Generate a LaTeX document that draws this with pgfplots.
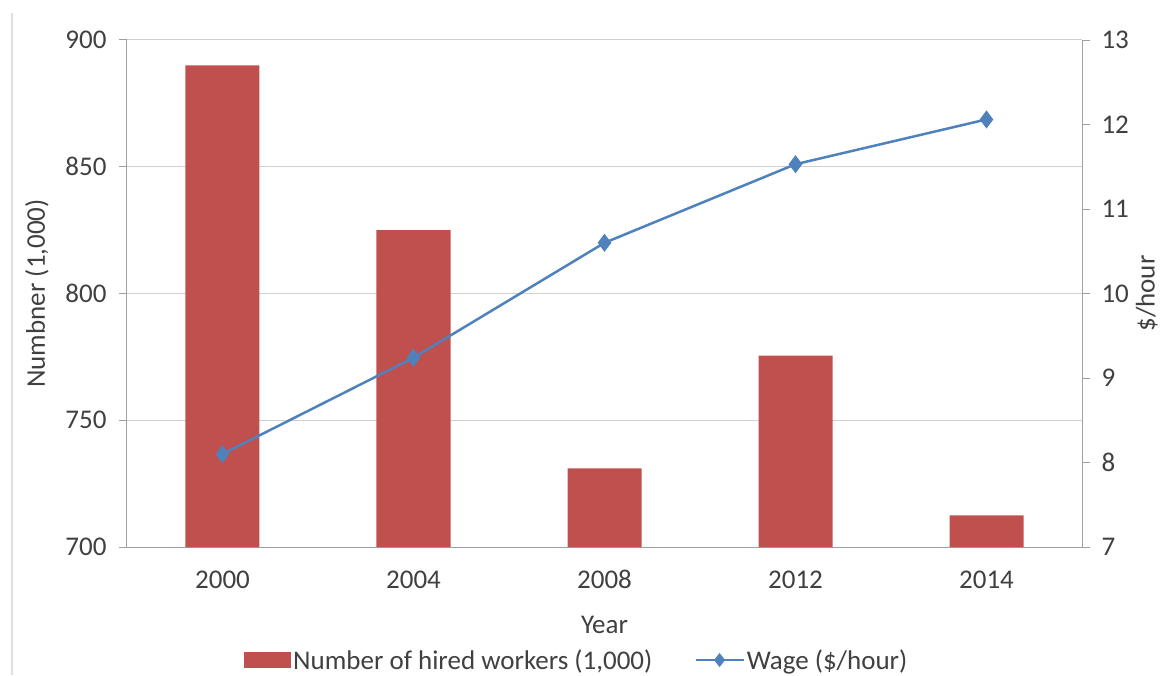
\documentclass[border=0pt]{standalone}
\usepackage{fontspec}
\setmainfont{Carlito}
\usepackage{pgfplots}
\pgfplotsset{compat=1.18}
\definecolor{barred}{HTML}{C0504D}
\definecolor{lineblue}{HTML}{4F81BD}
\definecolor{gridgray}{HTML}{D0D0D0}
\definecolor{axisgray}{HTML}{A0A0A0}
\definecolor{textgray}{HTML}{404040}
\begin{document}
\begin{tikzpicture}[font=\fontsize{27}{32}\selectfont]
\path[use as bounding box] (-127pt,-128pt) rectangle (1035pt,547pt);
\draw[gray!25, line width=1.5pt] (-115pt,-128pt) -- (-115pt,534pt);
\begin{axis}[
  scale only axis, width=955pt, height=507pt,
  xmin=-0.5, xmax=4.5, ymin=700, ymax=900,
  ytick={700,750,...,900},
  xtick={0,...,4}, xticklabels={2000,2004,2008,2012,2014},
  major x tick style={draw=none},
  extra x ticks={-0.5,0.5,1.5,2.5,3.5,4.5},
  extra x tick labels={},
  extra x tick style={major tick length=8pt, tick style={draw=axisgray, line width=1pt}},
  axis x line*=bottom, axis y line*=left,
  axis line style={-, axisgray, line width=1pt},
  ymajorgrids, grid style={gridgray, line width=1pt},
  tick align=outside, major tick length=8pt,
  tick style={axisgray, line width=1pt},
  ticklabel style={text=textgray, font=\fontsize{27}{32}\selectfont},
  yticklabel style={xshift=-9pt},
  xticklabel style={yshift=-12pt},
  /pgf/number format/assume math mode=true,
  ylabel={Numbner (1,000)},
  ylabel style={text=textgray, font=\fontsize{27}{32}\selectfont, yshift=10pt},
  xlabel={Year},
  xlabel style={text=textgray, font=\fontsize{27}{32}\selectfont, yshift=-4pt},
  clip=true,
]
\addplot[ybar, fill=barred, draw=none, bar width=74pt] coordinates {(0,890) (1,825) (2,731) (3,775.5) (4,712.5)};
\end{axis}
\begin{axis}[
  scale only axis, width=955pt, height=507pt,
  xmin=-0.5, xmax=4.5, ymin=7, ymax=13,
  axis x line=none, axis y line*=right,
  axis line style={-, axisgray, line width=1pt},
  ytick={7,...,13},
  tick align=outside, major tick length=8pt,
  tick style={axisgray, line width=1pt},
  ticklabel style={text=textgray, font=\fontsize{27}{32}\selectfont},
  yticklabel style={xshift=8pt},
  /pgf/number format/assume math mode=true,
  ylabel={\$/hour},
  ylabel style={text=textgray, font=\fontsize{27}{32}\selectfont},
  legend style={at={(axis description cs:0.471,-0.223)}, anchor=center, draw=none, fill=none,
    legend columns=2, font=\fontsize{27}{32}\selectfont, text=textgray,
    /tikz/every even column/.append style={column sep=40pt}},
  clip=false,
]
\addlegendimage{fill=barred, draw=none, legend image code/.code={\fill[barred] (0pt,-8pt) rectangle (47pt,8pt);}}
\addlegendentry{Number of hired workers (1,000)}
\addplot[lineblue, line width=2.5pt, mark=diamond*, mark size=7pt, mark options={fill=lineblue},
  legend image code/.code={\draw[lineblue, line width=2.5pt] (0pt,0pt) -- (48pt,0pt); \fill[lineblue] (24pt,5pt) -- (28pt,0pt) -- (24pt,-5pt) -- (20pt,0pt) -- cycle;}]
  coordinates {(0,8.1) (1,9.24) (2,10.6) (3,11.53) (4,12.06)};
\addlegendentry{Wage (\$/hour)}
\end{axis}
\end{tikzpicture}
\end{document}
